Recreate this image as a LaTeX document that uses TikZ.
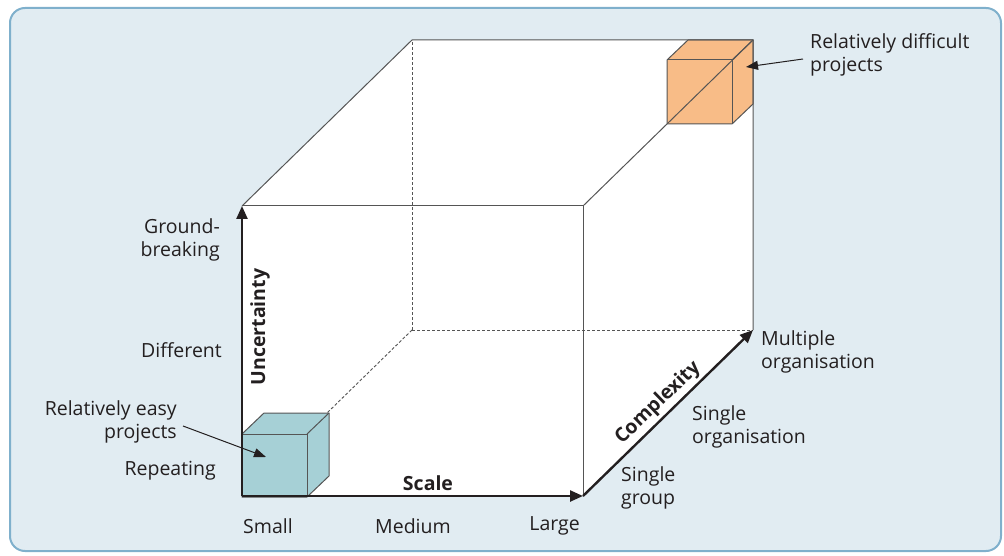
\documentclass[tikz,border=0pt]{standalone}
\usepackage{fontspec}
\setmainfont{Open Sans}
\usetikzlibrary{arrows.meta}

\definecolor{framefill}{HTML}{E1ECF2}
\definecolor{frameline}{HTML}{7FB0CC}
\definecolor{easyfill}{HTML}{A6D0D6}
\definecolor{hardfill}{HTML}{F8BC87}
\definecolor{edgegray}{HTML}{555555}
\definecolor{inkgray}{HTML}{231F20}

\begin{document}
\begin{tikzpicture}[
  x=1pt, y=-1pt,
  every node/.style={font=\fontsize{19.5}{23.5}\selectfont, text=inkgray, inner sep=0pt},
  edge/.style={draw=edgegray, line width=1pt},
  hidden/.style={draw=edgegray, line width=0.9pt, dash pattern=on 3pt off 2pt},
  axis/.style={draw=inkgray, line width=2.4pt, -{Triangle[length=13pt,width=11pt]}},
  pointer/.style={draw=inkgray, line width=1pt, -{Triangle[length=12pt,width=9pt]}},
  axislbl/.style={font=\fontsize{19.5}{23.5}\selectfont\bfseries}
]
\useasboundingbox (0,0) rectangle (1004,556);

% frame
\draw[frameline, fill=framefill, line width=2pt, rounded corners=15pt]
  (10,8) rectangle (1001,551);

% corners of the big cube
\coordinate (fbl) at (242,496);
\coordinate (ftl) at (242,206);
\coordinate (fbr) at (583,496);
\coordinate (ftr) at (583,206);
\coordinate (bbl) at (412,330);
\coordinate (btl) at (412,40);
\coordinate (bbr) at (753,330);
\coordinate (btr) at (753,40);

\fill[white] (fbl) -- (ftl) -- (btl) -- (btr) -- (bbr) -- (fbr) -- cycle;

% hidden edges
\draw[hidden] (bbl) -- (bbr);
\draw[hidden] (bbl) -- (btl);
\draw[hidden] (bbl) -- (fbl);

% relatively difficult projects
\draw[edge, fill=hardfill, line join=round]
  (667,60) -- (688,40) -- (753,40) -- (753,104) -- (732,124) -- (667,124) -- cycle;
\draw[edge] (667,60) -- (732,60) -- (732,124);
\draw[edge] (732,60) -- (753,40);

% visible edges
\draw[edge] (ftl) -- (ftr) -- (fbr);
\draw[edge] (ftl) -- (btl) -- (btr) -- (bbr);
\draw[edge] (ftr) -- (btr);

% relatively easy projects
\draw[edge, fill=easyfill, line join=round]
  (242,434) -- (264,413) -- (329,413) -- (329,476) -- (307,497) -- (242,497) -- cycle;
\draw[edge] (242,434) -- (307,434) -- (307,497);
\draw[edge] (307,434) -- (329,413);

% axes
\draw[axis] (fbl) -- (ftl);
\draw[axis] (fbl) -- (fbr);
\draw[axis] (fbr) -- (bbr);

\node[axislbl, rotate=90] (unc) at (260,327) {Uncertainty};
\node[axislbl] (scale) at (428,483) {Scale};
\node[axislbl, rotate=44] (cplx) at (658,403) {Complexity};

% uncertainty levels
\node[anchor=east, align=right] (ground) at (220,240) {Ground-\\breaking};
\node[anchor=east] (diff) at (222,350) {Different};
\node[anchor=east] (rep) at (216,471) {Repeating};

% scale levels
\node[anchor=west] (small) at (243,526) {Small};
\node (medium) at (413,526) {Medium};
\node[anchor=east] (large) at (580,526) {Large};

% complexity levels
\node[anchor=west, align=left] (sgroup) at (621,488) {Single\\group};
\node[anchor=west, align=left] (sorg) at (692,427) {Single\\organisation};
\node[anchor=west, align=left] (morg) at (761,352) {Multiple\\organisation};

% callouts
\node[anchor=east, align=right] (easy) at (177,422) {Relatively easy\\projects};
\node[anchor=west, align=left] (hard) at (810,55) {Relatively difficult\\projects};
\coordinate (easytip) at (266,457);
\coordinate (hardtip) at (746,67);
\draw[pointer] ([shift={(6,4)}]easy.east) -- (easytip);
\draw[pointer] ([shift={(-7,4)}]hard.west) -- (hardtip);

\end{tikzpicture}
\end{document}
